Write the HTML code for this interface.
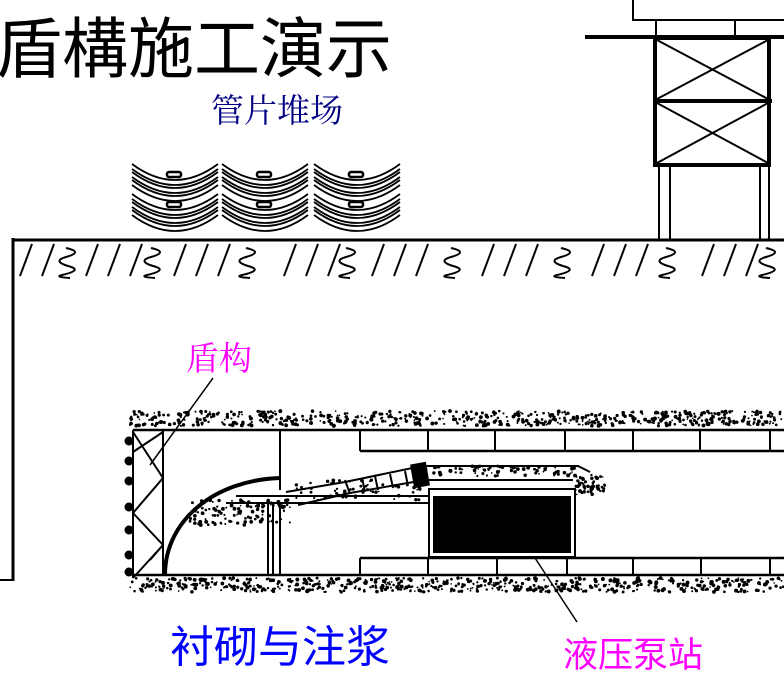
<!DOCTYPE html>
<html><head><meta charset="utf-8"><style>
html,body{margin:0;padding:0;background:#fff;width:784px;height:649px;overflow:hidden}
svg{position:absolute;left:0;top:0}
.t{position:absolute;white-space:nowrap;font-family:"Liberation Sans","Noto Sans CJK SC",sans-serif;line-height:1}
</style></head><body>
<svg id="s" width="784" height="649" viewBox="0 0 784 649" fill="none" stroke="#000" stroke-width="2">
<rect x="633" y="-2" width="160" height="22"/>
<line x1="656" y1="20" x2="656" y2="36"/><line x1="735" y1="20" x2="735" y2="36"/>
<line x1="585" y1="37" x2="784" y2="37" stroke-width="4"/>
<rect x="655" y="38" width="114" height="127" stroke-width="4"/>
<line x1="655" y1="101" x2="772" y2="101" stroke-width="4"/>
<path d="M657 40L768 99M768 40L657 99M657 103L768 163M768 103L657 163"/>
<path d="M659 166V240M670 166V240M760 166V240M769 166V240"/>
<line x1="12" y1="240" x2="784" y2="240" stroke-width="3"/>
<line x1="13" y1="238" x2="13" y2="581" stroke-width="3"/>
<line x1="0" y1="580" x2="14" y2="580" stroke-width="2"/>
<g id="hatch"></g>
<g id="stacks" stroke-width="1.8"></g>
<g id="dots" fill="#000" stroke="none"></g>
<line x1="133" y1="430" x2="784" y2="430" stroke-width="2.5"/>
<line x1="133" y1="575" x2="784" y2="575" stroke-width="2.5"/>
<line x1="360" y1="451" x2="784" y2="451" stroke-width="2.5"/>
<line x1="360" y1="558" x2="784" y2="558" stroke-width="2.5"/>
<path d="M360 430V451M428 430V451M495 430V451M565 430V451M633 430V451M700 430V451M770 430V451"/>
<path d="M360 558V575M428 558V575M497 558V575M567 558V575M633 558V575M701 558V575M770 558V575"/>
<line x1="133" y1="430" x2="133" y2="578"/>
<line x1="163" y1="430" x2="163" y2="575"/>
<path d="M133 432L163 478L133 513L163 545L133 578M163 432L133 452M163 478L133 513M163 545L150 560" />
<path d="M165 575C165 520 215 480 280 478" stroke-width="4"/>
<line x1="280" y1="430" x2="280" y2="490"/>
<line x1="236" y1="496" x2="430" y2="496"/>
<line x1="226" y1="503" x2="430" y2="503"/>
<path d="M268 503V575M273 503V575M280 503V575"/>
<rect x="429" y="489" width="146" height="68"/>
<rect x="434" y="497" width="136" height="55" fill="#000"/>
<path d="M286 492L345 482L422 466H578L590 472" stroke-width="2"/>
<path d="M298 505L350 493L425 480H573" stroke-width="2"/>
<path d="M345 480L350 494M362 478L365 492M375 476L378 490M390 474L393 488M405 471L408 486" />
<rect x="413" y="464" width="14" height="22" fill="#000" transform="rotate(-10 420 475)"/>
<line x1="213" y1="378" x2="150" y2="465" stroke-width="1.5"/>
<line x1="535" y1="558" x2="577" y2="622" stroke-width="1.5"/>
</svg>
<div class="t" style="left:-4px;top:16px;font-size:66px;color:#000">盾構施工演示</div>
<div class="t" style="left:211px;top:96px;font-size:33px;color:#000080;font-family:'Liberation Serif','Noto Serif CJK SC',serif">管片堆场</div>
<div class="t" style="left:186px;top:344px;font-size:33px;color:#ff00ff;font-family:'Liberation Serif','Noto Serif CJK SC',serif">盾构</div>
<div class="t" style="left:170px;top:626px;font-size:44px;color:#0000ff">衬砌与注浆</div>
<div class="t" style="left:563px;top:638px;font-size:35px;color:#ff00ff">液压泵站</div>
<script>
var NS="http://www.w3.org/2000/svg";
function el(p,t,a){var e=document.createElementNS(NS,t);for(var k in a)e.setAttribute(k,a[k]);p.appendChild(e);return e;}
var seed=7;function r(){seed=(seed*16807)%2147483647;return seed/2147483647;}
var d=document.getElementById('dots');
function band(x0,x1,y0,y1,n){for(var i=0;i<n;i++)el(d,'circle',{cx:x0+r()*(x1-x0),cy:y0+r()*(y1-y0),r:0.8+r()*1.2});}
band(130,784,411,426,650);band(130,784,578,592,650);
band(190,290,500,525,120);band(290,420,480,500,60);band(420,575,466,476,80);band(575,605,475,495,60);
[441,461,481,507,530,555,572].forEach(function(y){el(d,'circle',{cx:129,cy:y,r:4.5});});
var h=document.getElementById('hatch');var p="";
for(var x=20;x<784;x+=22){if((x>55&&x<80)||(x>140&&x<165)||(x>230&&x<270)||(x>330&&x<360)||(x>435&&x<465)||(x>545&&x<580)||(x>650&&x<690)||(x>750&&x<780))continue;p+="M"+(x+12)+" 244L"+x+" 276";}
el(h,'path',{d:p,'stroke-width':2});
[70,155,250,350,455,565,670,770].forEach(function(x){el(h,'path',{d:"M"+(x-4)+" 248q18 4 0 9q-14 4 2 9q16 4 -6 9q-8 2 8 3",'stroke-width':2});});
var st=document.getElementById('stacks');
[175,265,357].forEach(function(cx){
 for(var k=0;k<2;k++){var by=180+k*30;
  for(var j=0;j<3;j++){var y=by+j*8;
   el(st,'path',{d:"M"+(cx-43)+" "+(y-16)+"Q"+cx+" "+(y+16)+" "+(cx+43)+" "+(y-16)});
   el(st,'path',{d:"M"+(cx-43)+" "+(y-11)+"Q"+cx+" "+(y+21)+" "+(cx+43)+" "+(y-11)});}
  el(st,'rect',{x:cx-8,y:by-8,width:14,height:5,rx:2,'stroke-width':2.5});}
});
</script>
</body></html>
